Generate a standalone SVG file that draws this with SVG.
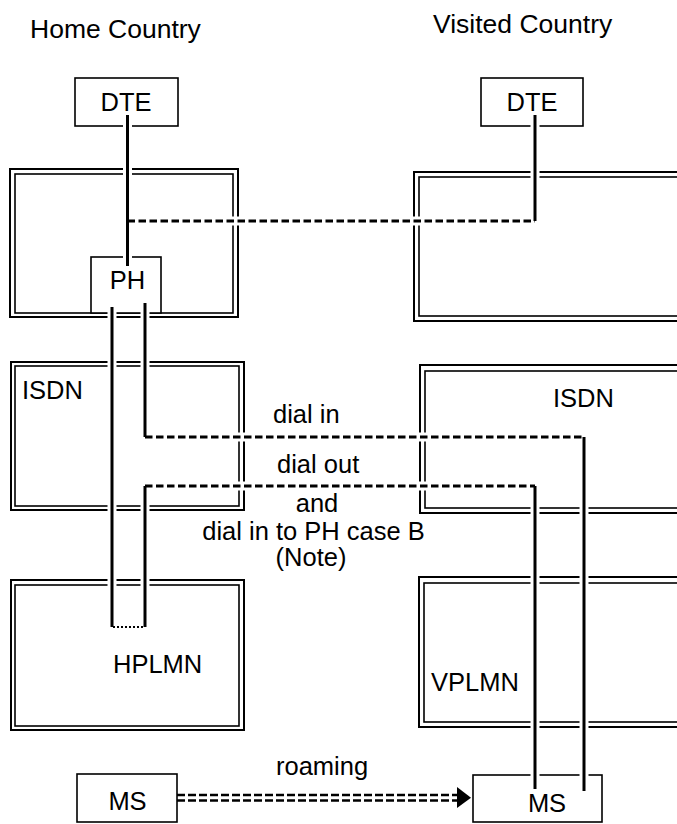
<svg xmlns="http://www.w3.org/2000/svg" width="677" height="824" viewBox="0 0 677 824">
<style>
text{font-family:"Liberation Sans",Arial,sans-serif;font-size:25.5px;fill:#000}
.hd{font-size:26.5px}
.fo{fill:none;stroke:#000;stroke-width:2}
.fi{fill:none;stroke:#000;stroke-width:1.6}
.box{fill:#fff;stroke:#000;stroke-width:1.6}
.halo{fill:none;stroke:#fff;stroke-width:9}
.ln{fill:none;stroke:#000;stroke-width:3}
.dash{fill:none;stroke:#000;stroke-width:3;stroke-dasharray:7.5 3.5}
.dot{fill:none;stroke:#000;stroke-width:2;stroke-dasharray:2 2}
.rd{fill:none;stroke:#000;stroke-width:2.4;stroke-dasharray:8 3}
</style>
<rect width="677" height="824" fill="#fff"/>
<text class="hd" x="30" y="38">Home Country</text>
<text class="hd" x="433" y="33">Visited Country</text>
<g id="home-top">
<rect class="fo" x="10" y="169" width="228" height="148"/>
<rect class="fi" x="15" y="174" width="218" height="139"/>
</g>
<g id="visited-top">
<rect class="fo" x="414" y="172" width="280" height="149"/>
<rect class="fi" x="419" y="177" width="270" height="139"/>
</g>
<g id="home-isdn">
<rect class="fo" x="11" y="362" width="233" height="148"/>
<rect class="fi" x="15" y="366" width="224" height="140"/>
<text x="22" y="399">ISDN</text>
</g>
<g id="visited-isdn">
<rect class="fo" x="420" y="365" width="280" height="148"/>
<rect class="fi" x="425" y="371" width="270" height="137"/>
<text x="553" y="407">ISDN</text>
</g>
<g id="hplmn">
<rect class="fo" x="11" y="580" width="233" height="150"/>
<rect class="fi" x="15" y="585" width="224" height="141"/>
<text x="113" y="673">HPLMN</text>
</g>
<g id="vplmn">
<rect class="fo" x="419" y="577" width="280" height="150"/>
<rect class="fi" x="424" y="583" width="270" height="139"/>
<text x="431" y="691">VPLMN</text>
</g>
<g id="dte-home">
<rect class="box" x="75" y="78" width="103" height="48"/>
<text x="126" y="110.5" text-anchor="middle">DTE</text>
</g>
<g id="dte-visited">
<rect class="box" x="481" y="78" width="102" height="48"/>
<text x="532" y="110.5" text-anchor="middle">DTE</text>
</g>
<g id="ph">
<rect class="box" x="91" y="257" width="70" height="56"/>
<text x="127.5" y="289" text-anchor="middle">PH</text>
</g>
<g id="ms-home">
<rect class="box" x="77" y="774" width="100" height="48"/>
<text x="127.5" y="810" text-anchor="middle">MS</text>
</g>
<g id="ms-visited">
<rect class="box" x="473" y="775" width="129" height="47"/>
<text x="547" y="812" text-anchor="middle">MS</text>
</g>
<g id="connectors">
<g class="halo">
<path d="M127.5 115V266"/>
<path d="M127.5 221H535V115"/>
<path d="M112 307V627"/>
<path d="M145 303V437H584V791"/>
<path d="M145 627V486H535V789"/>
</g>
<path class="ln" d="M127.5 115V266"/>
<path class="dash" d="M127.5 221H535"/>
<path class="ln" d="M535 221V115"/>
<path class="ln" d="M112 307V627"/>
<path class="ln" d="M145 303V437"/>
<path class="dash" d="M145 437H584"/>
<path class="ln" d="M584 437V791"/>
<path class="ln" d="M145 627V486"/>
<path class="dash" d="M145 486H535"/>
<path class="ln" d="M535 486V789"/>
<path class="dot" d="M113 627H144"/>
<path class="rd" d="M177 795H458"/>
<path class="rd" d="M177 800.5H458"/>
<polygon points="457,787 471,797.7 457,808" fill="#000"/>
</g>
<text x="273" y="423">dial in</text>
<text x="277" y="473">dial out</text>
<text x="317" y="512" text-anchor="middle">and</text>
<text x="313.5" y="540" text-anchor="middle">dial in to PH case B</text>
<text x="311" y="566" text-anchor="middle">(Note)</text>
<text x="276" y="775">roaming</text>
</svg>
